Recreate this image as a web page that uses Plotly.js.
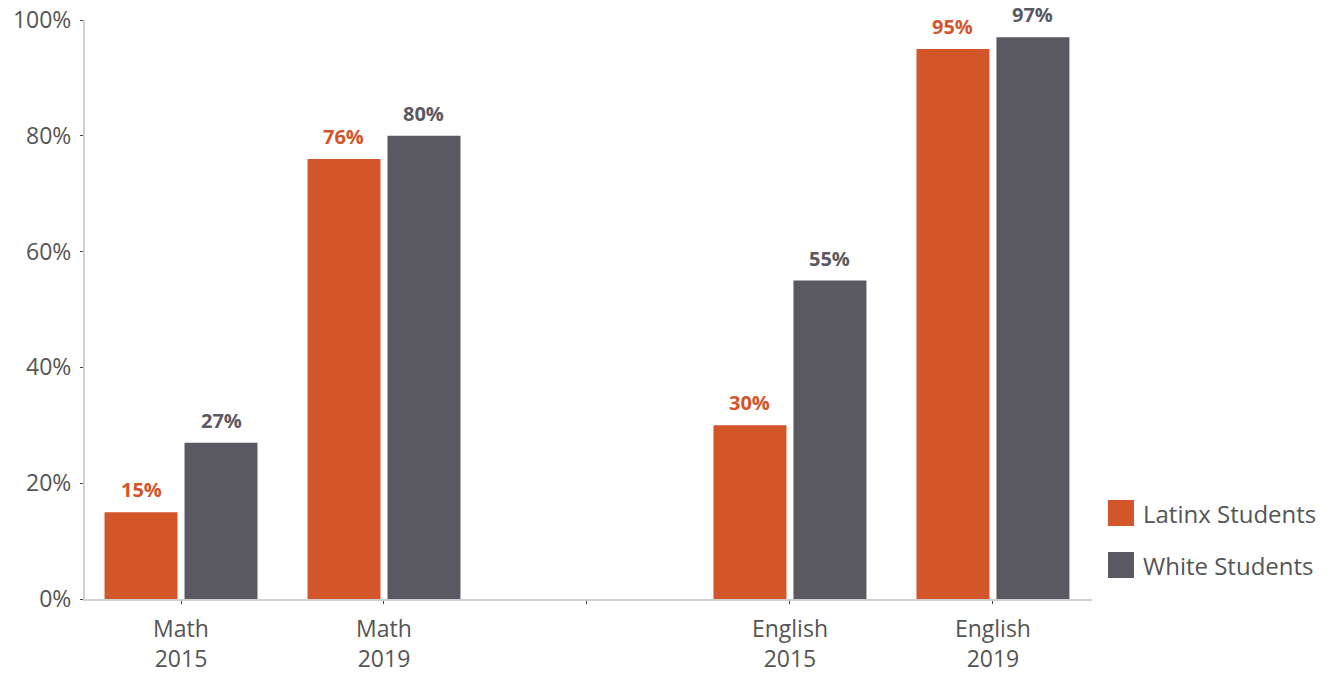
<!DOCTYPE html>
<html>
<head>
<meta charset="utf-8">
<script src="https://cdn.plot.ly/plotly-3.0.1.min.js"></script>
<style>html,body{margin:0;padding:0;background:#fff;}#chart{width:1335px;height:673px;}</style>
</head>
<body>
<div id="chart"></div>
<script>
const categories = ["Math<br>2015", "Math<br>2019", " ", "English<br>2015", "English<br>2019"];
const latinx = [15, 76, null, 30, 95];
const white = [27, 80, null, 55, 97];
const seriesNames = ["Latinx Students", "White Students"];
const yTickVals = [0, 20, 40, 60, 80, 100];
const yTickText = ["0%", "20%", "40%", "60%", "80%", "100%"];

const orange = "#D3552A";
const gray = "#5A5962";
const FONT = "'Open Sans', Lato, sans-serif";

const traces = [
  {type: "bar", name: seriesNames[0], x: categories, y: latinx, marker: {color: orange}, hoverinfo: "none", showlegend: false},
  {type: "bar", name: seriesNames[1], x: categories, y: white, marker: {color: gray}, hoverinfo: "none", showlegend: false}
];

const annotations = [];
[[latinx, orange, -40], [white, gray, 40]].forEach(([vals, col, dx]) => {
  vals.forEach((v, i) => {
    if (v === null) return;
    annotations.push({
      x: categories[i], y: v, xref: "x", yref: "y",
      text: "<b>" + v + "%</b>", showarrow: false,
      yanchor: "bottom", yshift: 7, xshift: dx,
      font: {family: FONT, size: 20, color: col}
    });
  });
});

// custom legend (large square swatches)
const legendColors = [orange, gray];
const legendY = [513, 565];
const shapes = [];
seriesNames.forEach((name, k) => {
  shapes.push({
    type: "rect", xref: "paper", yref: "paper",
    xsizemode: "pixel", ysizemode: "pixel",
    xanchor: 1.0, yanchor: 0,
    x0: 1108 - 1092, x1: 1134 - 1092,
    y0: -(legendY[k] - 13 - 599), y1: -(legendY[k] + 13 - 599),
    fillcolor: legendColors[k], line: {width: 0}
  });
  annotations.push({
    xref: "paper", yref: "paper", x: 1.0, y: 0,
    xanchor: "left", yanchor: "middle",
    xshift: 1141 - 1092, yshift: 599 - legendY[k],
    text: name, showarrow: false,
    font: {family: FONT, size: 24, color: "#555"}
  });
});

const layout = {
  width: 1335, height: 673,
  margin: {l: 85, r: 243, t: 20, b: 74},
  paper_bgcolor: "#fff", plot_bgcolor: "#fff",
  barmode: "group", bargap: 0.212, bargroupgap: 0.0875,
  font: {family: FONT, color: "#555"},
  showlegend: false,
  xaxis: {
    type: "category", range: [-0.473, 4.488],
    showline: true, linecolor: "#d0d0d0", linewidth: 2,
    ticks: "outside", ticklen: 3, tickcolor: "#444", tickwidth: 1,
    ticklabelstandoff: 5,
    tickfont: {family: FONT, size: 23, color: "#555"},
    showgrid: false, zeroline: false, fixedrange: true
  },
  yaxis: {
    range: [0, 100], tickvals: yTickVals, ticktext: yTickText,
    showline: true, linecolor: "#d0d0d0", linewidth: 2,
    ticks: "outside", ticklen: 3, tickcolor: "#444", tickwidth: 1,
    ticklabelstandoff: 4,
    tickfont: {family: FONT, size: 23, color: "#555"},
    showgrid: false, zeroline: false, fixedrange: true
  },
  shapes: shapes,
  annotations: annotations
};

Plotly.newPlot("chart", traces, layout, {displayModeBar: false, staticPlot: true});
</script>
</body>
</html>
